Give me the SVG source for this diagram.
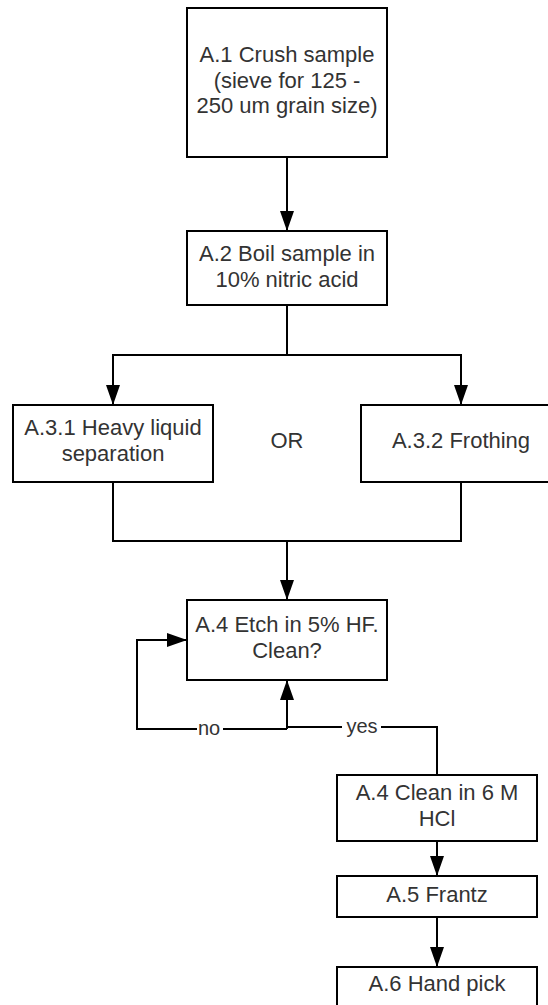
<svg xmlns="http://www.w3.org/2000/svg" width="548" height="1005" viewBox="0 0 548 1005">
  <defs>
    <marker id="arrow" markerUnits="userSpaceOnUse" markerWidth="20" markerHeight="14" refX="20" refY="7" orient="auto">
      <path d="M0,0 L20,7 L0,14 z" fill="#000"/>
    </marker>
    <style>
      .box { fill: #fff; stroke: #000; stroke-width: 2; }
      .t { font-family: "Liberation Sans", Arial, sans-serif; font-size: 22px; fill: #333; text-anchor: middle; }
      .lbl { font-family: "Liberation Sans", Arial, sans-serif; font-size: 20px; fill: #333; text-anchor: middle; }
      .c { fill: none; stroke: #000; stroke-width: 2; }
      .a { marker-end: url(#arrow); }
      .bg { fill: #fff; }
    </style>
  </defs>
  <rect width="548" height="1005" fill="#fff"/>

  <g id="connectors">
    <path class="c a" d="M287,157 V231"/>
    <path class="c a" d="M287,305 V355 H113 V405"/>
    <path class="c a" d="M287,355 H461 V405"/>
    <path class="c a" d="M113,482 V541 H287 V600"/>
    <path class="c" d="M461,482 V541 H287"/>
    <path class="c a" d="M287,729 V680"/>
    <path class="c a" d="M287,729 H137 V640 H187"/>
    <path class="c" d="M287,727 H437 V775"/>
    <path class="c a" d="M437,841 V876"/>
    <path class="c a" d="M437,917 V967"/>
    <rect class="bg" x="197" y="718" width="26" height="20"/>
    <text class="lbl" x="209" y="735">no</text>
    <rect class="bg" x="342" y="716" width="39" height="20"/>
    <text class="lbl" x="362" y="733">yes</text>
  </g>

  <g id="a1">
    <rect class="box" x="187" y="8" width="200" height="149"/>
    <text class="t" x="287" y="62">A.1 Crush sample</text>
    <text class="t" x="287" y="87.5">(sieve for 125 -</text>
    <text class="t" x="287" y="113">250 um grain size)</text>
  </g>

  <g id="a2">
    <rect class="box" x="187" y="231" width="200" height="74"/>
    <text class="t" x="287" y="261">A.2 Boil sample in</text>
    <text class="t" x="287" y="286.5">10% nitric acid</text>
  </g>

  <g id="a31">
    <rect class="box" x="13" y="405" width="200" height="77"/>
    <text class="t" x="113" y="435">A.3.1 Heavy liquid</text>
    <text class="t" x="113" y="460.5">separation</text>
  </g>

  <g id="or">
    <text class="t" x="287" y="447.5">OR</text>
  </g>

  <g id="a32">
    <rect class="box" x="361" y="405" width="200" height="77"/>
    <text class="t" x="461" y="448">A.3.2 Frothing</text>
  </g>

  <g id="a4">
    <rect class="box" x="187" y="600" width="200" height="80"/>
    <text class="t" x="287" y="632">A.4 Etch in 5% HF.</text>
    <text class="t" x="287" y="657.5">Clean?</text>
  </g>

  <g id="a4b">
    <rect class="box" x="337" y="775" width="200" height="66"/>
    <text class="t" x="437" y="800">A.4 Clean in 6 M</text>
    <text class="t" x="437" y="826">HCl</text>
  </g>

  <g id="a5">
    <rect class="box" x="337" y="876" width="200" height="41"/>
    <text class="t" x="437" y="902">A.5 Frantz</text>
  </g>

  <g id="a6">
    <rect class="box" x="337" y="967" width="200" height="50"/>
    <text class="t" x="437" y="991">A.6 Hand pick</text>
  </g>
</svg>
